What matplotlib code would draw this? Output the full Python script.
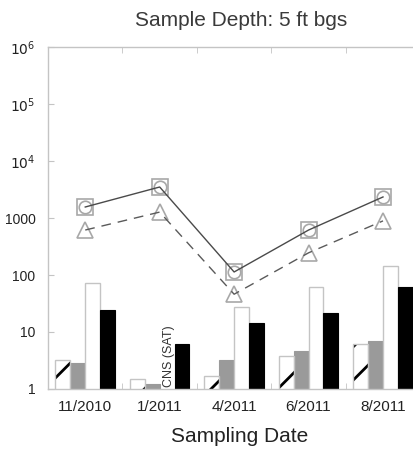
import matplotlib
matplotlib.use("Agg")
import matplotlib.pyplot as plt
import numpy as np
from matplotlib.ticker import FixedLocator, FixedFormatter, NullLocator

plt.rcParams['font.family'] = ['Liberation Sans', 'DejaVu Sans']
plt.rcParams['hatch.linewidth'] = 2.0

# Sampling events
dates = ["11/2010", "1/2011", "4/2011", "6/2011", "8/2011"]

# Bar series (concentrations)
bar_hatched = [3.2, 1.5, 1.7, 3.8, 6.2]
bar_gray = [2.9, 1.2, 3.2, 4.6, 6.9]
bar_white = [72, np.nan, 27.5, 62, 144]
bar_black = [24, 6.2, 14.4, 21.6, 62]

# Line series
line_solid = [1560, 3500, 113, 615, 2340]
line_dashed = [615, 1270, 46, 245, 890]

ytick_vals = [1, 10, 100, 1000, 1e4, 1e5, 1e6]
ytick_text = ["1", "10", "100", "1000", r"$10^4$", r"$10^5$", r"$10^6$"]

fig = plt.figure(figsize=(4.14, 4.53), dpi=100)
ax = fig.add_axes([0.116, 0.1413, 0.899, 0.7549])

x = np.arange(len(dates))
w = 0.2
light = "#c4c4c4"

# hatched bars: hatch in black, outline light gray
ax.bar(x - 1.5 * w, bar_hatched, w, bottom=0, color="white", edgecolor="black",
       linewidth=0, hatch="/", zorder=2)
ax.bar(x - 1.5 * w, bar_hatched, w, fill=False, edgecolor=light, linewidth=1.0, zorder=3)
ax.bar(x - 0.5 * w, bar_gray, w, color="#9a9a9a", edgecolor="#9a9a9a", linewidth=0.8, zorder=2)
ax.bar(x + 0.5 * w, bar_white, w, color="white", edgecolor=light, linewidth=1.0, zorder=2)
ax.bar(x + 1.5 * w, bar_black, w, color="black", edgecolor="black", linewidth=0.8, zorder=2)

# no white bar at 1/2011
ax.text(x[1] + 0.5 * w + 0.02, 1.08, "CNS (SAT)", rotation=90, ha="center", va="bottom",
        fontsize=9, color="#333333", zorder=4)

# lines with markers
mk = "#a8a8a8"
ax.plot(x, line_solid, linestyle="none", marker="s", markersize=11, markerfacecolor="none",
        markeredgecolor=mk, markeredgewidth=1.2, zorder=4)
ax.plot(x, line_solid, linestyle="none", marker="o", markersize=9, markerfacecolor="none",
        markeredgecolor=mk, markeredgewidth=1.2, zorder=4)
ax.plot(x, line_solid, color="#4a4a4a", linewidth=1.0, zorder=5)
ax.plot(x, line_dashed, linestyle="none", marker="^", markersize=12, markerfacecolor="none",
        markeredgecolor=mk, markeredgewidth=1.2, zorder=4)
ax.plot(x, line_dashed, color="#5a5a5a", linewidth=1.0, dashes=(7, 5), zorder=5)

ax.set_yscale("log")
ax.set_ylim(1, 1e6)
ax.set_xlim(-0.5, len(dates) - 0.5)

ax.yaxis.set_major_locator(FixedLocator(ytick_vals))
ax.yaxis.set_major_formatter(FixedFormatter(ytick_text))
ax.yaxis.set_minor_locator(NullLocator())

ax.set_xticks(x)
ax.set_xticklabels(dates, fontsize=11, color="#222222")
ax.set_xticks(x[:-1] + 0.5, minor=True)
ax.tick_params(axis="x", which="major", length=0, pad=8)
ax.tick_params(axis="x", which="minor", direction="in", length=4, color=light,
               top=True, bottom=True)
ax.tick_params(axis="y", which="major", direction="in", length=4, color=light,
               labelsize=10, labelcolor="#222222", pad=9, right=True)

for s in ax.spines.values():
    s.set_color(light)
    s.set_linewidth(1.0)

fig.text(241 / 414, 1 - 20 / 453, "Sample Depth: 5 ft bgs", ha="center", va="center",
         fontsize=15, color="#3a3a3a")
fig.text(240 / 414, 1 - 437 / 453, "Sampling Date", ha="center", va="center",
         fontsize=15, color="#222222")

fig.savefig("out.png", dpi=100)
